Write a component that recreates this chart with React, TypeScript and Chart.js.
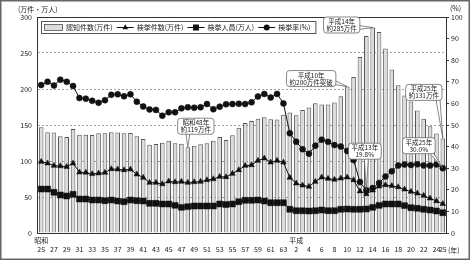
import React, { useEffect, useRef } from "react";
import { Chart, registerables } from "chart.js";

Chart.register(...registerables);

// ---- data ----
const tickLabels = [
  "25", "", "27", "", "29", "", "31", "", "33", "", "35", "", "37", "", "39", "", "41", "", "43", "",
  "45", "", "47", "", "49", "", "51", "", "53", "", "55", "", "57", "", "59", "", "61", "", "63",
  "", "2", "", "4", "", "6", "", "8", "", "10", "", "12", "", "14", "", "16", "", "18", "", "20", "", "22", "", "24", "25",
];
const eraLabels = ["昭和", "平成"];
const eraIndex = [0, 40];

const seriesNames = ["認知件数(万件)", "検挙件数(万件)", "検挙人員(万人)", "検挙率(%)"];

// 認知件数 (万件)
const recognized = [
  147.0, 139.9, 139.5, 134.4, 133.5, 144.5, 136.5, 136.5, 136.0, 138.5,
  138.5, 140.0, 139.5, 138.5, 139.0, 134.4, 130.5, 122.5, 123.5, 125.5,
  128.0, 124.5, 124.0, 119.1, 121.1, 123.4, 124.5, 128.0, 133.5, 129.0,
  135.7, 146.3, 152.8, 155.5, 158.8, 160.8, 158.1, 157.7, 164.1, 167.3,
  163.7, 170.8, 174.2, 180.1, 178.5, 178.3, 181.2, 190.0, 203.4, 216.6,
  244.3, 273.6, 285.4, 279.0, 256.3, 227.0, 205.1, 190.9, 182.7, 170.3,
  158.6, 148.1, 138.2, 131.4,
];
// 検挙件数 (万件)
const cleared = [
  99.0, 96.8, 93.5, 93.0, 92.0, 96.8, 84.3, 84.0, 82.0, 83.0,
  83.8, 88.9, 88.4, 87.5, 88.4, 81.5, 76.9, 69.9, 69.9, 68.0,
  71.8, 70.8, 71.3, 69.9, 70.8, 71.3, 73.6, 75.0, 78.2, 77.8,
  82.4, 87.5, 93.5, 94.4, 100.5, 103.7, 98.1, 100.5, 98.1, 76.9,
  69.0, 66.2, 64.4, 71.3, 77.3, 75.5, 74.2, 75.9, 77.3, 73.6,
  58.0, 54.2, 59.2, 64.8, 66.7, 65.5, 63.8, 60.6, 57.4, 55.1,
  51.9, 48.1, 44.4, 40.5,
];
// 検挙人員 (万人)
const persons = [
  61.0, 61.0, 56.5, 52.8, 51.4, 53.7, 47.2, 47.2, 45.8, 45.8,
  44.9, 45.8, 44.4, 43.5, 45.8, 44.9, 44.4, 41.2, 41.2, 40.3,
  40.3, 38.4, 35.6, 36.6, 37.5, 37.5, 37.5, 37.5, 40.3, 39.5,
  40.3, 43.5, 45.4, 45.4, 45.8, 44.4, 42.1, 42.1, 42.1, 32.9,
  31.0, 30.8, 30.6, 31.0, 31.9, 31.0, 31.0, 32.9, 33.3, 32.9,
  32.9, 33.3, 35.6, 38.4, 40.3, 40.3, 40.3, 38.0, 35.2, 34.3,
  32.9, 31.9, 30.6, 28.2,
];
// 検挙率 (%)
const rate = [
  68.5, 70.0, 68.3, 71.0, 70.0, 68.0, 62.5, 62.2, 61.2, 60.3,
  61.5, 64.0, 64.2, 63.3, 64.2, 60.8, 58.6, 57.2, 57.0, 54.3,
  55.9, 55.9, 57.7, 58.2, 58.0, 58.2, 59.7, 57.3, 58.5, 59.6,
  59.7, 59.8, 59.7, 60.5, 63.2, 64.4, 62.7, 64.4, 60.0, 46.2,
  42.3, 38.8, 36.7, 40.4, 43.2, 42.2, 40.7, 40.0, 38.0, 33.8,
  23.6, 19.8, 20.8, 23.2, 26.1, 28.6, 31.2, 31.7, 31.5, 31.8,
  31.3, 31.2, 31.7, 30.0,
];

const leftTicks = { min: 0, max: 300, step: 50 };
const rightTicks = { min: 0, max: 100, step: 10 };

const callouts = [
  { index: 23, series: "bar", lines: ["昭和48年", "約119万件"], dx: 8, dy: -21, side: "bottom" },
  { index: 48, series: "bar", lines: ["平成10年", "約200万件突破"], dx: -36, dy: -8, side: "right" },
  { index: 52, series: "bar", lines: ["平成14年", "約285万件"], dx: -31, dy: -2.5, side: "right" },
  { index: 51, series: "rate", lines: ["平成13年", "19.8%"], dx: -1.5, dy: -39, side: "bottom" },
  { index: 63, series: "bar", lines: ["平成25年", "約131万件"], dx: -19, dy: -46, side: "bottom" },
  { index: 63, series: "rate", lines: ["平成25年", "30.0%"], dx: -24, dy: -22.5, side: "bottom" },
];

const FONT = "'Noto Sans CJK JP', 'Noto Sans', sans-serif";
const INK = "#111";
const BAR_FILL = "#dcdcdc";
const BAR_EDGE = "#555";

function drawMarker(ctx: CanvasRenderingContext2D, kind: string, x: number, y: number) {
  ctx.beginPath();
  if (kind === "triangle") {
    const r = 3.3;
    for (let k = 0; k < 3; k++) {
      const a = (k * 2 * Math.PI) / 3;
      const px = x + Math.sin(a) * r;
      const py = y - Math.cos(a) * r;
      if (k === 0) ctx.moveTo(px, py);
      else ctx.lineTo(px, py);
    }
    ctx.closePath();
  } else if (kind === "rect") {
    ctx.rect(x - 3, y - 3, 6, 6);
  } else {
    ctx.arc(x, y, 3, 0, Math.PI * 2);
  }
  ctx.fillStyle = INK;
  ctx.fill();
}

const overlay = {
  id: "overlay",
  beforeDraw(chart: any) {
    const ctx = chart.ctx as CanvasRenderingContext2D;
    ctx.save();
    ctx.fillStyle = "#fff";
    ctx.fillRect(0, 0, chart.width, chart.height);
    ctx.restore();
  },
  afterDraw(chart: any) {
    const ctx = chart.ctx as CanvasRenderingContext2D;
    const a = chart.chartArea;
    const xs = chart.scales.x;
    const ys = chart.scales.y;
    const y2 = chart.scales.y2;
    ctx.save();

    // plot frame
    ctx.strokeStyle = "#333";
    ctx.lineWidth = 1;
    ctx.strokeRect(a.left - 0.5, a.top + 0.5, a.right - a.left + 1, a.bottom - a.top);

    // outer frame
    ctx.strokeStyle = "#666";
    ctx.lineWidth = 1.5;
    ctx.strokeRect(0.75, 0.75, chart.width - 1.5, chart.height - 1.5);

    // axis unit texts
    ctx.fillStyle = "#222";
    ctx.font = `7px ${FONT}`;
    ctx.textBaseline = "middle";
    ctx.textAlign = "left";
    ctx.fillText("(万件・万人)", 18, 9);
    ctx.fillText("(%)", a.right + 4, 8);
    ctx.fillText("(年)", a.right + 2, 250);

    // legend
    const lx = a.left + 3;
    const ly = a.top + 4;
    const lh = 12;
    const kinds = ["bar", "triangle", "rect", "circle"];
    ctx.font = `7px ${FONT}`;
    let cx = lx + 3;
    const cy = ly + lh / 2;
    const parts: { kind: string; x: number; text: string; tx: number }[] = [];
    kinds.forEach((k, i) => {
      const symW = k === "bar" ? 19 : 17;
      const tx = cx + symW + 3;
      parts.push({ kind: k, x: cx, text: seriesNames[i], tx });
      cx = tx + ctx.measureText(seriesNames[i]).width + 4;
    });
    const lw = cx - lx + 1;
    ctx.fillStyle = "#fff";
    ctx.fillRect(lx, ly, lw, lh);
    ctx.strokeStyle = "#555";
    ctx.lineWidth = 1;
    ctx.strokeRect(lx + 0.5, ly + 0.5, lw, lh);
    parts.forEach((p) => {
      if (p.kind === "bar") {
        ctx.fillStyle = BAR_FILL;
        ctx.fillRect(p.x, cy - 3, 19, 6);
        ctx.strokeStyle = BAR_EDGE;
        ctx.lineWidth = 0.8;
        ctx.strokeRect(p.x + 0.5, cy - 3 + 0.5, 18, 6);
      } else {
        ctx.strokeStyle = INK;
        ctx.lineWidth = 1;
        ctx.beginPath();
        ctx.moveTo(p.x, cy + 0.5);
        ctx.lineTo(p.x + 17, cy + 0.5);
        ctx.stroke();
        drawMarker(ctx, p.kind, p.x + 8.5, cy + 0.5);
      }
      ctx.fillStyle = "#222";
      ctx.textAlign = "left";
      ctx.textBaseline = "middle";
      ctx.fillText(p.text, p.tx, cy + 0.5);
    });

    // callouts
    ctx.font = `6.5px ${FONT}`;
    callouts.forEach((c) => {
      const tx = xs.getPixelForValue(c.index);
      const ty = c.series === "bar" ? ys.getPixelForValue(recognized[c.index]) : y2.getPixelForValue(rate[c.index]);
      const w = Math.max(...c.lines.map((t) => ctx.measureText(t).width)) + 6;
      const h = 16;
      const bx = tx + c.dx - w / 2;
      const by = ty + c.dy - h / 2;
      // tail
      let b1x, b1y, b2x, b2y;
      if (c.side === "bottom") {
        const px = Math.min(Math.max(tx, bx + 4), bx + w - 4);
        b1x = px - 2; b2x = px + 2; b1y = b2y = by + h - 1;
      } else {
        const py = Math.min(Math.max(ty, by + 4), by + h - 4);
        b1y = py - 2; b2y = py + 2; b1x = b2x = bx + w - 1;
      }
      ctx.beginPath();
      ctx.moveTo(b1x, b1y);
      ctx.lineTo(tx, ty);
      ctx.lineTo(b2x, b2y);
      ctx.closePath();
      ctx.fillStyle = "#fff";
      ctx.fill();
      ctx.strokeStyle = "#555";
      ctx.lineWidth = 0.7;
      ctx.stroke();
      // box
      ctx.beginPath();
      (ctx as any).roundRect(bx, by, w, h, 3);
      ctx.fillStyle = "#fff";
      ctx.fill();
      ctx.stroke();
      ctx.fillStyle = "#222";
      ctx.textAlign = "center";
      ctx.textBaseline = "middle";
      ctx.fillText(c.lines[0], bx + w / 2, by + 4.5);
      ctx.fillText(c.lines[1], bx + w / 2, by + 11.5);
    });

    ctx.restore();
  },
};

export default function App() {
  const ref = useRef<HTMLCanvasElement>(null);
  useEffect(() => {
    document.body.style.margin = "0";
    const labels = tickLabels.map((t, i) => {
      const k = eraIndex.indexOf(i);
      return [k >= 0 ? eraLabels[k] : "", t];
    });
    const lineCommon = {
      type: "line" as const,
      borderColor: INK,
      borderWidth: 1,
      pointBackgroundColor: INK,
      pointBorderColor: INK,
      pointBorderWidth: 0.5,
      tension: 0,
      fill: false,
    };
    const chart = new Chart(ref.current as HTMLCanvasElement, {
      type: "bar",
      data: {
        labels,
        datasets: [
          {
            ...lineCommon,
            label: seriesNames[3],
            data: rate,
            yAxisID: "y2",
            pointStyle: "circle",
            pointRadius: 3,
            order: 0,
          } as any,
          {
            ...lineCommon,
            label: seriesNames[2],
            data: persons,
            yAxisID: "y",
            pointStyle: "rect",
            pointRadius: 4.2,
            order: 1,
          } as any,
          {
            ...lineCommon,
            label: seriesNames[1],
            data: cleared,
            yAxisID: "y",
            pointStyle: "triangle",
            pointRadius: 3.3,
            order: 2,
          } as any,
          {
            type: "bar",
            label: seriesNames[0],
            data: recognized,
            yAxisID: "y",
            backgroundColor: BAR_FILL,
            borderColor: BAR_EDGE,
            borderWidth: 1,
            barPercentage: 0.72,
            categoryPercentage: 1,
            order: 5,
          } as any,
        ],
      },
      options: {
        animation: false,
        responsive: false,
        maintainAspectRatio: false,
        devicePixelRatio: 1,
        layout: { padding: { top: 17, left: 0, right: 0, bottom: 0 } },
        plugins: { legend: { display: false }, tooltip: { enabled: false }, title: { display: false } },
        scales: {
          x: {
            type: "category",
            grid: { display: false, drawTicks: false },
            border: { display: false },
            ticks: {
              autoSkip: false,
              maxRotation: 0,
              minRotation: 0,
              padding: 2,
              color: "#222",
              font: { family: FONT, size: 7, lineHeight: 1.4 },
            },
            afterFit: (s: any) => {
              s.height = 27;
            },
          },
          y: {
            position: "left",
            min: leftTicks.min,
            max: leftTicks.max,
            ticks: { stepSize: leftTicks.step, padding: 6, color: "#222", font: { family: FONT, size: 7 } },
            grid: { color: "#888", lineWidth: 0.8, drawTicks: false },
            border: { display: false, dash: [2, 2] },
            afterFit: (s: any) => {
              s.width = 38;
            },
          },
          y2: {
            position: "right",
            min: rightTicks.min,
            max: rightTicks.max,
            ticks: { stepSize: rightTicks.step, padding: 2, color: "#222", font: { family: FONT, size: 7 } },
            grid: { drawOnChartArea: false, drawTicks: true, tickLength: 3, tickColor: "#333" },
            border: { display: false },
            afterFit: (s: any) => {
              s.width = 24;
            },
          },
        },
      },
      plugins: [overlay],
    } as any);
    return () => chart.destroy();
  }, []);
  return (
    <div style={{ width: 470, height: 260 }}>
      <canvas ref={ref} width={470} height={260} style={{ display: "block", width: 470, height: 260 }} />
    </div>
  );
}
